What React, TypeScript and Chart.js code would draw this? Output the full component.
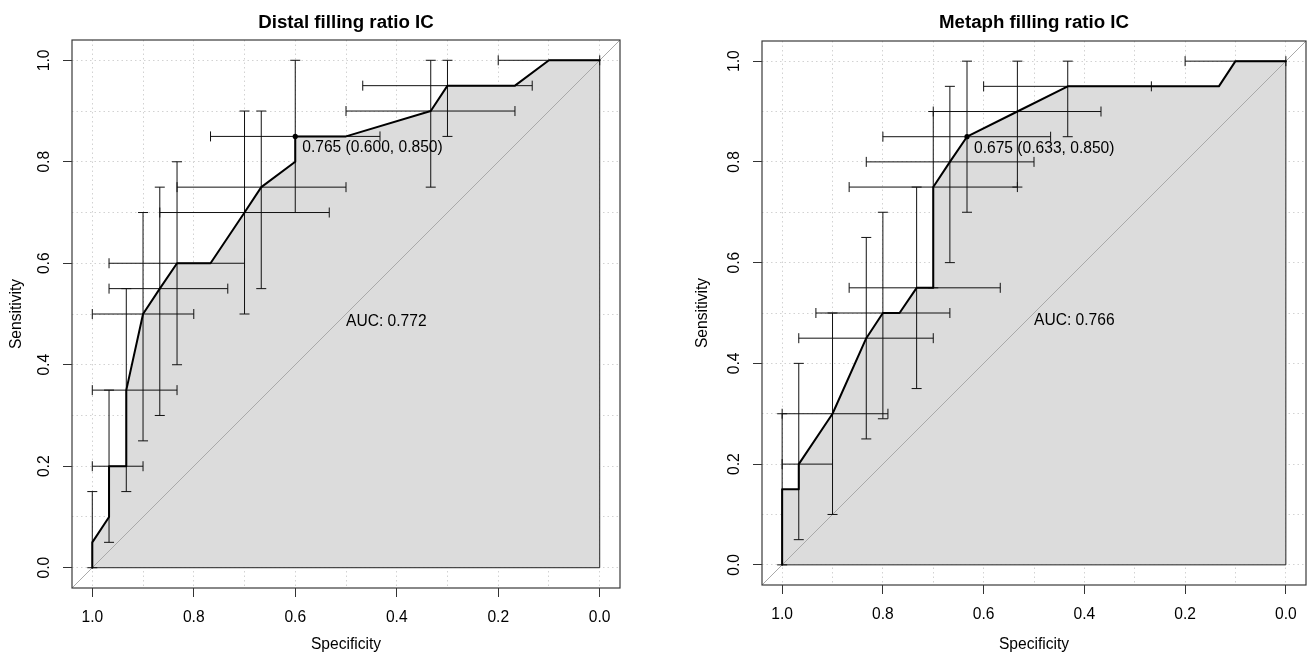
import React, { useEffect, useRef } from "react";
import { Chart, registerables } from "chart.js";
Chart.register(...registerables);

const FONT = '"Liberation Sans", Arial, Helvetica, sans-serif';

// ---- shared axis steps ----
const gridSteps = [0, 0.1, 0.2, 0.3, 0.4, 0.5, 0.6, 0.7, 0.8, 0.9, 1.0];
const labelSteps = [0, 0.2, 0.4, 0.6, 0.8, 1.0];
const labelTexts = ["0.0", "0.2", "0.4", "0.6", "0.8", "1.0"];

// ---- Distal filling ratio IC ----
const distalSpec = [1, 1, 0.967, 0.967, 0.933, 0.933, 0.9, 0.867, 0.833, 0.767, 0.7, 0.667, 0.6, 0.6, 0.5, 0.333, 0.3, 0.167, 0.1, 0];
const distalSens = [0, 0.05, 0.1, 0.2, 0.2, 0.35, 0.5, 0.55, 0.6, 0.6, 0.7, 0.75, 0.8, 0.85, 0.85, 0.9, 0.95, 0.95, 1, 1];
const distalSeSpec = [1, 0.967, 0.933, 0.9, 0.867, 0.833, 0.7, 0.667, 0.6, 0.333, 0.3];
const distalSeLow = [0, 0.05, 0.15, 0.25, 0.3, 0.4, 0.5, 0.55, 0.7, 0.75, 0.85];
const distalSeHigh = [0.15, 0.35, 0.55, 0.7, 0.75, 0.8, 0.9, 0.9, 1, 1, 1];
const distalSpSens = [1, 0.95, 0.9, 0.85, 0.75, 0.7, 0.6, 0.55, 0.5, 0.35, 0.2];
const distalSpLow = [0, 0.133, 0.167, 0.433, 0.5, 0.533, 0.7, 0.733, 0.8, 0.833, 0.9];
const distalSpHigh = [0.2, 0.467, 0.5, 0.767, 0.833, 0.867, 0.967, 0.967, 1, 1, 1];
const distalThr = [0.6, 0.85];
const distalThrLabel = "0.765 (0.600, 0.850)";
const distalAuc = "AUC: 0.772";

// ---- Metaph filling ratio IC ----
const metaphSpec = [1, 1, 0.967, 0.967, 0.9, 0.833, 0.8, 0.767, 0.733, 0.7, 0.7, 0.667, 0.633, 0.533, 0.433, 0.133, 0.1, 0];
const metaphSens = [0, 0.15, 0.15, 0.2, 0.3, 0.45, 0.5, 0.5, 0.55, 0.55, 0.75, 0.8, 0.85, 0.9, 0.95, 0.95, 1, 1];
const metaphSeSpec = [1, 0.967, 0.9, 0.833, 0.8, 0.733, 0.7, 0.667, 0.633, 0.533, 0.433];
const metaphSeLow = [0, 0.05, 0.1, 0.25, 0.29, 0.35, 0.55, 0.6, 0.7, 0.75, 0.85];
const metaphSeHigh = [0.3, 0.4, 0.5, 0.65, 0.7, 0.75, 0.9, 0.95, 1, 1, 1];
const metaphSpSens = [1, 0.95, 0.9, 0.85, 0.8, 0.75, 0.55, 0.5, 0.45, 0.3, 0.2];
const metaphSpLow = [0, 0.267, 0.367, 0.467, 0.5, 0.533, 0.567, 0.667, 0.7, 0.79, 0.9];
const metaphSpHigh = [0.2, 0.6, 0.7, 0.8, 0.833, 0.867, 0.867, 0.933, 0.967, 1, 1];
const metaphThr = [0.633, 0.85];
const metaphThrLabel = "0.675 (0.633, 0.850)";
const metaphAuc = "AUC: 0.766";

const aucPos = [0.5, 0.5];

type RocData = {
  title: string;
  spec: number[]; sens: number[];
  seSpec: number[]; seLow: number[]; seHigh: number[];
  spSens: number[]; spLow: number[]; spHigh: number[];
  thr: number[]; thrLabel: string; auc: string;
};
type Geo = { left: number; width: number; axisW: number; padTop: number; padRight: number; xAxisH: number; yTitlePad: number };

const distal: RocData = {
  title: "Distal filling ratio IC", spec: distalSpec, sens: distalSens,
  seSpec: distalSeSpec, seLow: distalSeLow, seHigh: distalSeHigh,
  spSens: distalSpSens, spLow: distalSpLow, spHigh: distalSpHigh,
  thr: distalThr, thrLabel: distalThrLabel, auc: distalAuc,
};
const metaph: RocData = {
  title: "Metaph filling ratio IC", spec: metaphSpec, sens: metaphSens,
  seSpec: metaphSeSpec, seLow: metaphSeLow, seHigh: metaphSeHigh,
  spSens: metaphSpSens, spLow: metaphSpLow, spHigh: metaphSpHigh,
  thr: metaphThr, thrLabel: metaphThrLabel, auc: metaphAuc,
};

const leftGeo: Geo = { left: 0, width: 660, axisW: 72, padTop: 40, padRight: 40, xAxisH: 67, yTitlePad: 7 };
const rightGeo: Geo = { left: 660, width: 647, axisW: 102, padTop: 41, padRight: 1, xAxisH: 70, yTitlePad: 33 };

const isMajor = (v: number) => Math.round(v * 10) % 2 === 0;
const BAR = "#111111";

function RocChart({ d, g }: { d: RocData; g: Geo }) {
  const ref = useRef<HTMLCanvasElement>(null);
  useEffect(() => {
    const canvas = ref.current;
    if (!canvas) return;
    const pts = d.spec.map((s, i) => ({ x: s, y: d.sens[i] }));
    const datasets: any[] = [];
    datasets.push({
      data: pts, fill: { value: 0 }, backgroundColor: "#dcdcdc",
      borderColor: "rgba(0,0,0,0)", borderWidth: 0, pointRadius: 0, order: 10,
    });
    datasets.push({
      data: [{ x: 1, y: 0 }, { x: 0, y: 0 }, { x: 0, y: 1 }],
      borderColor: "#222", borderWidth: 1, pointRadius: 0, fill: false, order: 9,
    });
    datasets.push({
      data: [{ x: 1.04, y: -0.04 }, { x: -0.04, y: 1.04 }],
      borderColor: "#a9a9a9", borderWidth: 1, pointRadius: 0, fill: false, order: 8,
    });
    d.seSpec.forEach((s, i) => {
      datasets.push({
        data: [{ x: s, y: d.seLow[i] }, { x: s, y: d.seHigh[i] }],
        borderColor: BAR, borderWidth: 1, pointStyle: "line", pointRadius: 5, rotation: 0,
        pointBorderColor: BAR, pointBorderWidth: 1, pointBackgroundColor: BAR, fill: false, order: 5,
      });
    });
    d.spSens.forEach((s, i) => {
      datasets.push({
        data: [{ x: d.spLow[i], y: s }, { x: d.spHigh[i], y: s }],
        borderColor: BAR, borderWidth: 1, pointStyle: "line", pointRadius: 5, rotation: 90,
        pointBorderColor: BAR, pointBorderWidth: 1, pointBackgroundColor: BAR, fill: false, order: 5,
      });
    });
    datasets.push({
      data: pts, borderColor: "#000", borderWidth: 2, pointRadius: 0, fill: false, order: 2,
      borderJoinStyle: "round", borderCapStyle: "round",
    });
    datasets.push({
      data: [{ x: d.thr[0], y: d.thr[1] }], showLine: false, pointRadius: 2.6,
      pointBackgroundColor: "#000", pointBorderColor: "#000", pointBorderWidth: 0, order: 1,
    });

    const gridOpts = {
      color: "#d2d2d2", lineWidth: 1, drawTicks: true, tickLength: 9, tickWidth: 1,
      tickColor: (c: any) => (c.tick && isMajor(c.tick.value) ? "#333" : "rgba(0,0,0,0)"),
    };

    const deco = {
      id: "deco",
      afterDraw(chart: any) {
        const { ctx, chartArea: a, scales } = chart;
        const x = scales.x, y = scales.y;
        ctx.save();
        ctx.strokeStyle = "#3a3a3a";
        ctx.lineWidth = 1.2;
        ctx.strokeRect(a.left, a.top, a.right - a.left, a.bottom - a.top);
        ctx.fillStyle = "#000";
        ctx.font = `15.6px ${FONT}`;
        ctx.textAlign = "center";
        ctx.textBaseline = "alphabetic";
        labelSteps.forEach((v, i) => {
          ctx.save();
          ctx.translate(a.left - 23, y.getPixelForValue(v));
          ctx.rotate(-Math.PI / 2);
          ctx.fillText(labelTexts[i], 0, 0);
          ctx.restore();
        });
        ctx.font = `bold 18.7px ${FONT}`;
        ctx.fillText(d.title, (a.left + a.right) / 2, 28);
        ctx.font = `15.6px ${FONT}`;
        ctx.textAlign = "left";
        ctx.fillText(d.auc, x.getPixelForValue(aucPos[0]), y.getPixelForValue(aucPos[1]) + 11.5);
        ctx.fillText(d.thrLabel, x.getPixelForValue(d.thr[0]) + 7, y.getPixelForValue(d.thr[1]) + 16);
        ctx.restore();
      },
    };

    const chart = new Chart(canvas, {
      type: "line",
      data: { datasets },
      plugins: [deco],
      options: {
        animation: false,
        responsive: false,
        events: [],
        layout: { autoPadding: false, padding: { top: g.padTop, right: g.padRight, left: 0, bottom: 0 } },
        plugins: { legend: { display: false }, tooltip: { enabled: false }, title: { display: false } },
        scales: {
          x: {
            type: "linear", reverse: true, min: -0.04, max: 1.04,
            afterBuildTicks: (sc: any) => { sc.ticks = gridSteps.map((v) => ({ value: v })); },
            afterFit: (sc: any) => { sc.height = g.xAxisH; sc.paddingLeft = 0; sc.paddingRight = 0; },
            ticks: {
              autoSkip: false, maxRotation: 0, minRotation: 0, padding: 11, color: "#000",
              font: { family: FONT, size: 15.6 },
              callback: (v: any) => (isMajor(Number(v)) ? Number(v).toFixed(1) : ""),
            },
            grid: gridOpts,
            border: { display: false, dash: [1.5, 3] },
            title: { display: true, text: "Specificity", color: "#000", font: { family: FONT, size: 15.6 }, padding: { top: 0, bottom: 1 } },
          },
          y: {
            type: "linear", position: "left", min: -0.04, max: 1.04,
            afterBuildTicks: (sc: any) => { sc.ticks = gridSteps.map((v) => ({ value: v })); },
            afterFit: (sc: any) => { sc.width = g.axisW; sc.paddingTop = 0; sc.paddingBottom = 0; },
            ticks: { display: false },
            grid: gridOpts,
            border: { display: false, dash: [1.5, 3] },
            title: { display: true, text: "Sensitivity", color: "#000", font: { family: FONT, size: 15.6 }, padding: { top: g.yTitlePad, bottom: 0 } },
          },
        },
      } as any,
    });
    return () => chart.destroy();
  }, [d, g]);

  return (
    <canvas
      ref={ref}
      width={g.width}
      height={655}
      style={{ position: "absolute", left: g.left, top: 0, width: g.width, height: 655, display: "block" }}
    />
  );
}

export default function App() {
  return (
    <div style={{ position: "fixed", left: 0, top: 0, width: 1307, height: 655, background: "#fff", overflow: "hidden" }}>
      <RocChart d={distal} g={leftGeo} />
      <RocChart d={metaph} g={rightGeo} />
    </div>
  );
}
